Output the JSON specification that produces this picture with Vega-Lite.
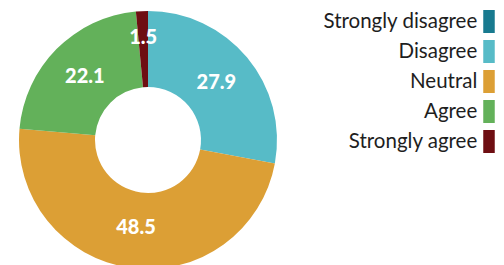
{
  "$schema": "https://vega.github.io/schema/vega-lite/v6.json",
  "width": 296,
  "height": 280,
  "padding": 0,
  "background": "white",
  "view": {"stroke": null},
  "data": {
    "values": [
      {"category": "Strongly disagree", "o": 1, "value": 0},
      {"category": "Disagree", "o": 2, "value": 27.9},
      {"category": "Neutral", "o": 3, "value": 48.5},
      {"category": "Agree", "o": 4, "value": 22.1},
      {"category": "Strongly agree", "o": 5, "value": 1.5}
    ]
  },
  "encoding": {
    "theta": {"field": "value", "type": "quantitative", "stack": true},
    "order": {"field": "o", "type": "quantitative"}
  },
  "layer": [
    {
      "mark": {"type": "arc", "innerRadius": 53, "outerRadius": 129},
      "encoding": {
        "color": {
          "field": "category",
          "type": "nominal",
          "scale": {
            "domain": ["Strongly disagree", "Disagree", "Neutral", "Agree", "Strongly agree"],
            "range": ["#187a8f", "#57bbc7", "#dc9f35", "#63b15a", "#6e0e12"]
          },
          "sort": null,
          "legend": {
            "orient": "none",
            "legendX": 317.5,
            "legendY": 10,
            "title": null,
            "padding": 0,
            "symbolType": "M-0.5,-1H0.5V1H-0.5Z",
            "symbolSize": 529,
            "symbolStrokeWidth": 0,
            "symbolOpacity": 1,
            "symbolOffset": 160,
            "labelAlign": "right",
            "labelOffset": -23.25,
            "labelFont": "Lato",
            "labelFontSize": 20.5,
            "labelColor": "#1e1e1e",
            "labelLimit": 300,
            "rowPadding": 7
          }
        }
      }
    },
    {
      "mark": {"type": "text", "radius": 89, "font": "Lato", "fontWeight": 900, "fontSize": 20, "fill": "white"},
      "encoding": {
        "text": {
          "condition": {"test": "datum.value < 5", "value": ""},
          "field": "value", "type": "quantitative", "format": ".1f"
        }
      }
    },
    {
      "mark": {"type": "text", "radius": 102, "font": "Lato", "fontWeight": 900, "fontSize": 20, "fill": "white"},
      "encoding": {
        "text": {
          "condition": {"test": "datum.value >= 5 || datum.value == 0", "value": ""},
          "field": "value", "type": "quantitative", "format": ".1f"
        }
      }
    }
  ]
}
